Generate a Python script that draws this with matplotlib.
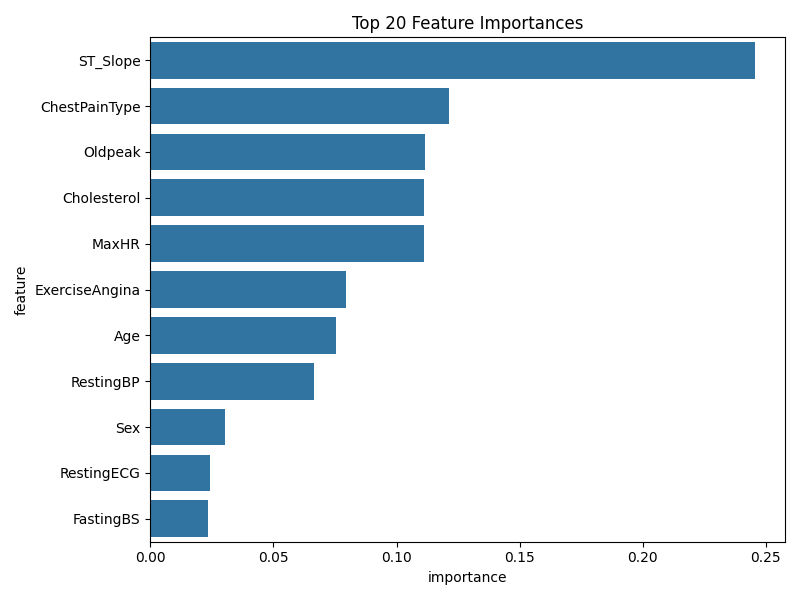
import matplotlib
matplotlib.use('Agg')
import matplotlib.pyplot as plt
import seaborn as sns
import pandas as pd

# feature importances
features = ['ST_Slope', 'ChestPainType', 'Oldpeak', 'Cholesterol', 'MaxHR',
            'ExerciseAngina', 'Age', 'RestingBP', 'Sex', 'RestingECG', 'FastingBS']
importances = [0.2455, 0.1212, 0.1117, 0.1113, 0.1112,
               0.0796, 0.0755, 0.0665, 0.0304, 0.0244, 0.0232]

df = pd.DataFrame({'feature': features, 'importance': importances})

plt.figure(figsize=(8, 6), dpi=100)
sns.barplot(data=df, x='importance', y='feature')
plt.title('Top 20 Feature Importances')
plt.tight_layout()
plt.savefig('out.png')
